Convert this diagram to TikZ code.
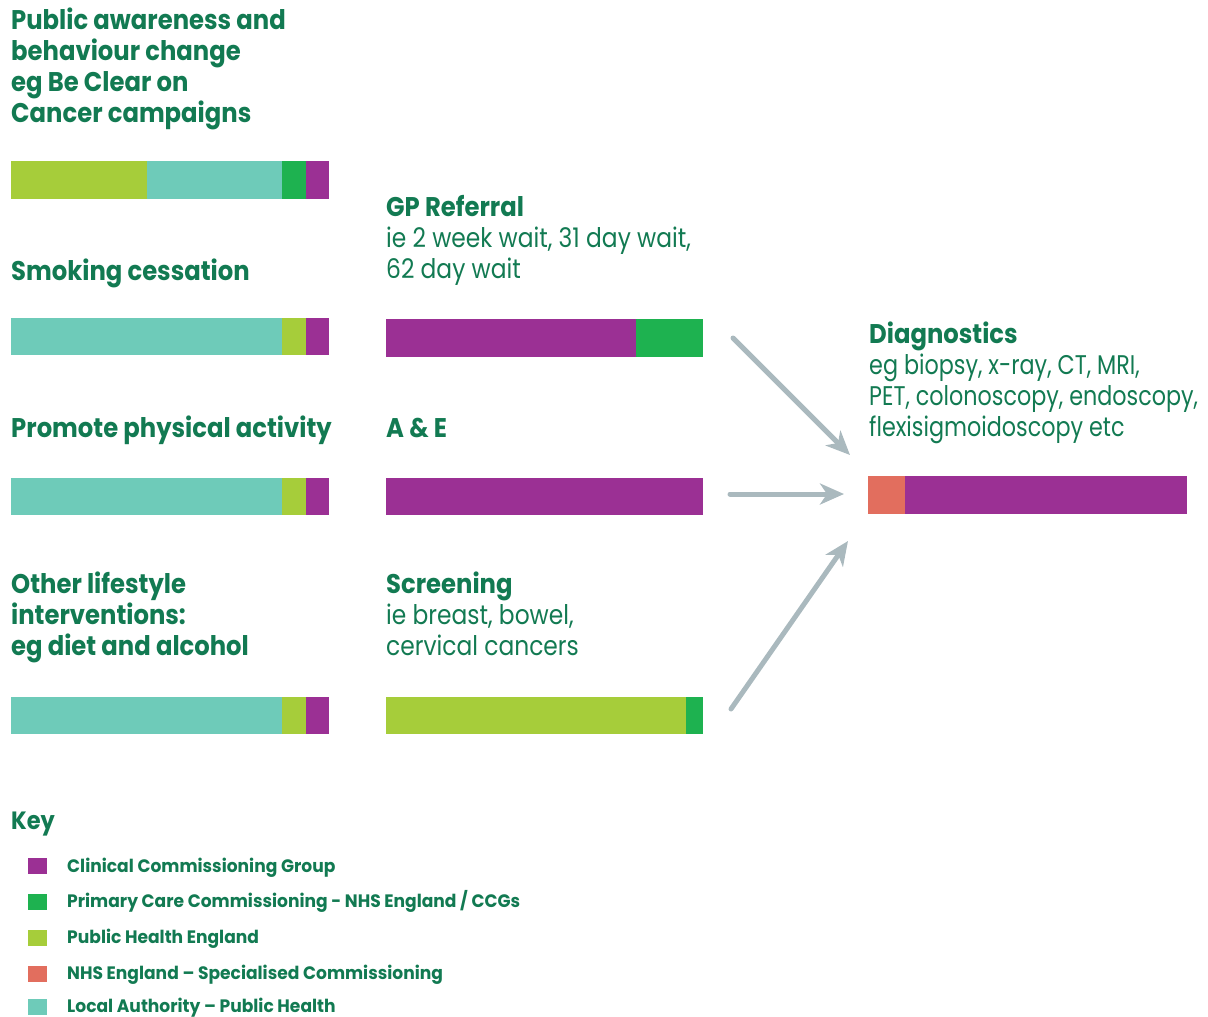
\documentclass[tikz,border=0pt]{standalone}
\usepackage{fontspec}
\setmainfont{Poppins}
\newfontfamily\hfont{Poppins}[FakeStretch=0.9]
\newfontfamily\bfont{Poppins}[FakeStretch=0.865]
\newfontfamily\dfont{Poppins}[FakeStretch=0.825]
\newfontfamily\kfont{Poppins}[FakeStretch=0.95]
\usetikzlibrary{arrows.meta}
\definecolor{txt}{RGB}{18,122,82}
\definecolor{cpur}{RGB}{155,48,148}
\definecolor{cgrn}{RGB}{30,178,80}
\definecolor{clim}{RGB}{166,205,58}
\definecolor{ctea}{RGB}{110,203,185}
\definecolor{csal}{RGB}{226,110,94}
\definecolor{carr}{RGB}{170,185,190}
\tikzset{
  head/.style={anchor=base west,inner sep=0pt,text=txt,font=\hfont\fontsize{27}{31}\selectfont\bfseries},
  body/.style={anchor=base west,inner sep=0pt,text=txt,font=\bfont\fontsize{27}{31}\selectfont},
  dbody/.style={anchor=base west,inner sep=0pt,text=txt,font=\dfont\fontsize{27}{31}\selectfont},
  keyt/.style={anchor=base west,inner sep=0pt,text=txt,font=\kfont\fontsize{18}{22}\selectfont\bfseries},
  conn/.style={draw=carr,line width=5pt,line cap=round,-{Stealth[length=24pt,width=21pt,inset=7pt]}}
}
\begin{document}
\begin{tikzpicture}[x=1pt,y=-1pt]
\useasboundingbox (0,0) rectangle (1208,1017);
% column 1 titles
\node[head] (t1a) at (11,29) {Public awareness and};
\node[head] (t1b) at (11,60) {behaviour change};
\node[head] (t1c) at (11,91) {eg Be Clear on};
\node[head] (t1d) at (11,122) {Cancer campaigns};
\node[head] (t2) at (11,280) {Smoking cessation};
\node[head] (t3) at (11,437) {Promote physical activity};
\node[head] (t4a) at (11,593) {Other lifestyle};
\node[head] (t4b) at (11,624) {interventions:};
\node[head] (t4c) at (11,655) {eg diet and alcohol};
% column 1 bars
\fill[clim] (11,161) rectangle (147,199);
\fill[ctea] (147,161) rectangle (282,199);
\fill[cgrn] (282,161) rectangle (306,199);
\fill[cpur] (306,161) rectangle (329,199);
\foreach \y in {318,478,697}{
  \fill[ctea] (11,\y) rectangle (282,\y+37);
  \fill[clim] (282,\y) rectangle (306,\y+37);
  \fill[cpur] (306,\y) rectangle (329,\y+37);
}
% column 2
\node[head] (g1) at (386,216) {GP Referral};
\node[body] (g2) at (386,247) {ie 2 week wait, 31 day wait,};
\node[body] (g3) at (386,278) {62 day wait};
\fill[cpur] (386,319) rectangle (636,357);
\fill[cgrn] (636,319) rectangle (703,357);
\node[head] (ae) at (386,437) {A \& E};
\fill[cpur] (386,478) rectangle (703,515);
\node[head] (s1) at (386,593) {Screening};
\node[body] (s2) at (386,624) {ie breast, bowel,};
\node[body] (s3) at (386,655) {cervical cancers};
\fill[clim] (386,697) rectangle (686,734);
\fill[cgrn] (686,697) rectangle (703,734);
% diagnostics
\node[head] (d1) at (869,343) {Diagnostics};
\node[dbody] (d2) at (869,374) {eg biopsy, x-ray, CT, MRI,};
\node[dbody] (d3) at (869,405) {PET, colonoscopy, endoscopy,};
\node[dbody] (d4) at (869,436) {flexisigmoidoscopy etc};
\fill[csal] (868,476) rectangle (905,514);
\fill[cpur] (905,476) rectangle (1187,514);
% arrows
\coordinate (a1s) at (733,338);
\coordinate (a1e) at (850,455);
\coordinate (a2s) at (730,494);
\coordinate (a2e) at (844,494);
\coordinate (a3s) at (731,709);
\coordinate (a3e) at (848,541);
\draw[conn] (a1s) -- (a1e);
\draw[conn] (a2s) -- (a2e);
\draw[conn] (a3s) -- (a3e);
% key
\node[anchor=base west,inner sep=0pt,text=txt,font=\hfont\fontsize{25}{30}\selectfont\bfseries] (key) at (11,829) {Key};
\fill[cpur] (28,858) rectangle (47,874);
\node[keyt] (k1) at (67,872) {Clinical Commissioning Group};
\fill[cgrn] (28,894) rectangle (47,910);
\node[keyt] (k2) at (67,907) {Primary Care Commissioning - NHS England / CCGs};
\fill[clim] (28,930) rectangle (47,946);
\node[keyt] (k3) at (67,943) {Public Health England};
\fill[csal] (28,966) rectangle (47,982);
\node[keyt] (k4) at (67,979) {NHS England – Specialised Commissioning};
\fill[ctea] (28,999) rectangle (47,1015);
\node[keyt] (k5) at (67,1012) {Local Authority – Public Health};
\end{tikzpicture}
\end{document}
